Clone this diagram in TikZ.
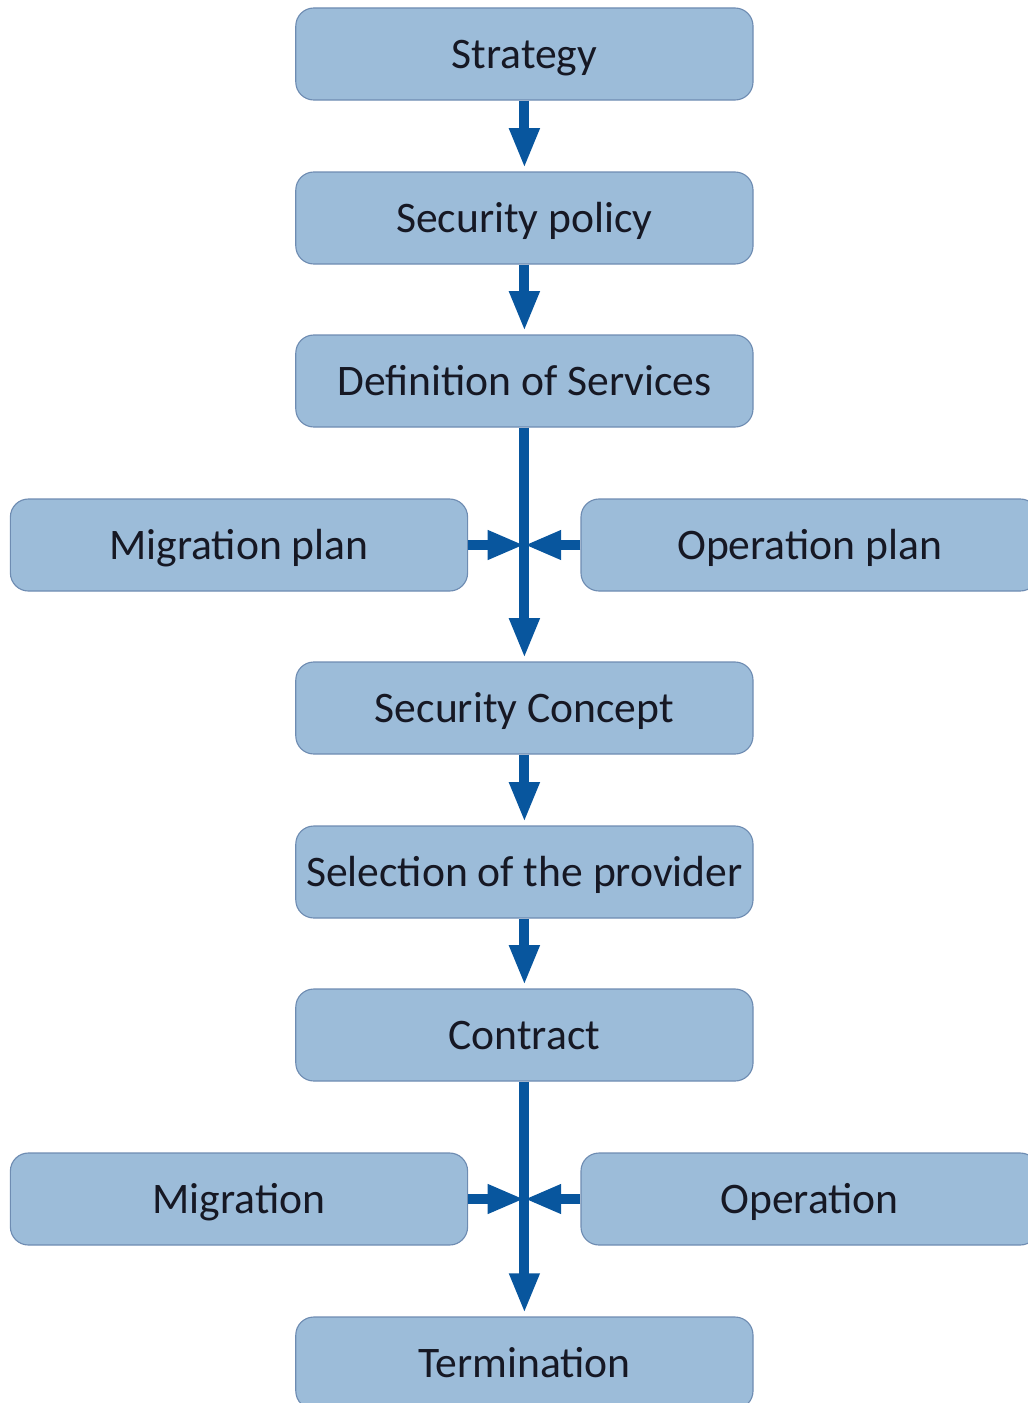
\documentclass[tikz,border=0pt]{standalone}
\usepackage{fontspec}
\setmainfont{Carlito}
\usepackage{tikz}
\usetikzlibrary{arrows.meta}

\definecolor{boxfill}{RGB}{156,188,217}
\definecolor{boxline}{RGB}{110,140,178}
\definecolor{flowblue}{RGB}{8,86,158}
\definecolor{boxtext}{RGB}{22,24,36}

\tikzset{
  stage/.style={draw=boxline, line width=0.8pt, fill=boxfill, rounded corners=0.45cm,
    minimum width=11.43cm, minimum height=2.3cm, inner sep=0pt,
    text height=0.7cm, text depth=0pt,
    text=boxtext, font=\fontsize{31}{33}\selectfont},
  flow/.style={draw=flowblue, line width=7pt,
    -{Triangle[width=0.7cm, length=1cm]}, shorten >=0.08cm},
  feed/.style={draw=flowblue, line width=7pt,
    -{Triangle[width=0.68cm, length=0.92cm]}}
}

\begin{document}
\begin{tikzpicture}
   \useasboundingbox (0,0) rectangle (25.7,-35.075);
   %
   % main chain down the middle
   \node[stage] (strategy)  at (13.11,-1.35)   {Strategy};
   \node[stage] (secpolicy) at (13.11,-5.45)   {Security policy};
   \node[stage] (services)  at (13.11,-9.525)  {Definition of Services};
   \node[stage] (concept)   at (13.11,-17.7)   {Security Concept};
   \node[stage] (provider)  at (13.11,-21.8)   {Selection of the provider};
   \node[stage] (contract)  at (13.11,-25.875) {Contract};
   \node[stage] (termin)    at (13.11,-34.075) {Termination};
   %
   % side inputs
   \node[stage] (migplan)   at (5.975,-13.625) {Migration plan};
   \node[stage] (opplan)    at (20.24,-13.625) {Operation plan};
   \node[stage] (migration) at (5.975,-29.975) {Migration};
   \node[stage] (operation) at (20.24,-29.975) {Operation};
   %
   \coordinate (joinA) at (services |- migplan);
   \coordinate (joinB) at (contract |- migration);
   %
   \draw[flow] (strategy) -- (secpolicy);
   \draw[flow] (secpolicy) -- (services);
   \draw[flow] (services) -- (concept);
   \draw[flow] (concept) -- (provider);
   \draw[flow] (provider) -- (contract);
   \draw[flow] (contract) -- (termin);
   %
   \draw[feed] (migplan) -- (joinA);
   \draw[feed] (opplan) -- (joinA);
   \draw[feed] (migration) -- (joinB);
   \draw[feed] (operation) -- (joinB);
   %
\end{tikzpicture}
\end{document}
